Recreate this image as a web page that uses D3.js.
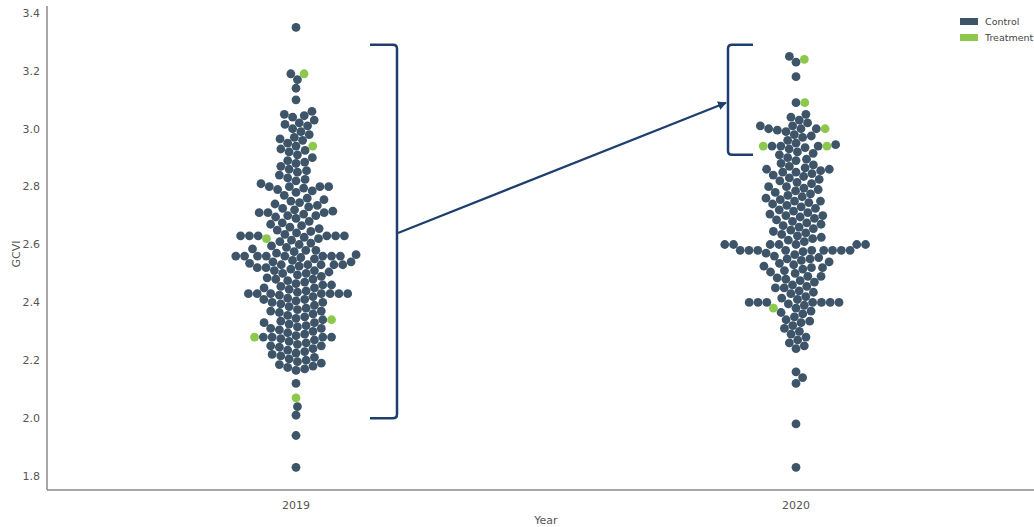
<!DOCTYPE html>
<html>
<head>
<meta charset="utf-8">
<script src="https://cdn.jsdelivr.net/npm/d3@7"></script>
<style>
  body { margin: 0; background: #fff; }
  svg { display: block; font-family: "DejaVu Sans", sans-serif; }
</style>
</head>
<body>
<div id="chart"></div>
<script>
const years = ["2019", "2020"];
const yTicks = [1.8, 2.0, 2.2, 2.4, 2.6, 2.8, 3.0, 3.2, 3.4];
const groups = ["Control", "Treatment"];

const control2019 = [
  3.35, 3.19, 3.17, 3.14, 3.10,
  3.06, 3.05, 3.045, 3.04,
  3.03, 3.02, 3.015, 3.01, 3.00,
  2.99, 2.98, 2.97, 2.965, 2.96,
  2.95, 2.94, 2.93, 2.925,
  2.92, 2.91, 2.90, 2.89, 2.885,
  2.88, 2.87, 2.86, 2.855, 2.85,
  2.84, 2.83, 2.825, 2.82, 2.81,
  2.80, 2.80, 2.80, 2.80, 2.795, 2.79, 2.785, 2.78,
  2.77, 2.76, 2.755, 2.75, 2.745, 2.74,
  2.735, 2.73, 2.725, 2.72, 2.715,
  2.71, 2.71, 2.71, 2.705, 2.70, 2.70, 2.695, 2.69,
  2.68, 2.675, 2.67, 2.665, 2.66, 2.655, 2.65,
  2.645, 2.64, 2.635, 2.63, 2.63, 2.63, 2.63, 2.63, 2.63, 2.625, 2.62,
  2.615, 2.61, 2.605, 2.60, 2.595, 2.59, 2.585, 2.58, 2.58,
  2.575, 2.57, 2.565, 2.56, 2.56, 2.56, 2.56, 2.56, 2.56, 2.56, 2.56, 2.555, 2.55,
  2.545, 2.54, 2.54, 2.535, 2.53, 2.53, 2.53, 2.53, 2.53, 2.525, 2.52, 2.52,
  2.515, 2.51, 2.51, 2.505, 2.50, 2.50, 2.495, 2.49, 2.485, 2.48, 2.48,
  2.475, 2.47, 2.465, 2.46, 2.46, 2.455, 2.45, 2.45,
  2.445, 2.44, 2.435, 2.43, 2.43, 2.43, 2.43, 2.43, 2.43, 2.43, 2.425, 2.42,
  2.415, 2.41, 2.41, 2.405, 2.40, 2.40, 2.395, 2.39, 2.385,
  2.38, 2.375, 2.37, 2.37, 2.365, 2.36, 2.355,
  2.35, 2.345, 2.34, 2.335, 2.33, 2.33, 2.325,
  2.32, 2.315, 2.31, 2.31, 2.305, 2.30,
  2.295, 2.29, 2.285, 2.28, 2.28, 2.28, 2.28, 2.275, 2.27,
  2.265, 2.26, 2.255, 2.25, 2.25, 2.245, 2.24,
  2.235, 2.23, 2.225, 2.22, 2.215, 2.21,
  2.205, 2.20, 2.195, 2.19, 2.185,
  2.18, 2.175, 2.17, 2.165,
  2.12, 2.04, 2.01, 1.94, 1.83
];
const treat2019 = [3.19, 2.94, 2.62, 2.34, 2.28, 2.07];

const control2020 = [
  3.25, 3.23, 3.18, 3.09,
  3.05, 3.04, 3.03,
  3.02, 3.01, 3.01, 3.00, 3.00, 3.00, 2.995,
  2.99, 2.98, 2.975, 2.97, 2.96,
  2.95, 2.945, 2.94, 2.94, 2.94, 2.935,
  2.93, 2.92, 2.915, 2.91, 2.90,
  2.895, 2.89, 2.88, 2.875, 2.87,
  2.865, 2.86, 2.86, 2.855, 2.85, 2.85, 2.845,
  2.84, 2.835, 2.83, 2.825, 2.82, 2.815, 2.81,
  2.80, 2.80, 2.795, 2.79, 2.785, 2.78, 2.775,
  2.77, 2.765, 2.76, 2.755, 2.75, 2.75, 2.745,
  2.74, 2.735, 2.73, 2.725, 2.72, 2.715, 2.71,
  2.705, 2.70, 2.70, 2.695, 2.69, 2.685,
  2.68, 2.675, 2.67, 2.665, 2.66, 2.655, 2.65,
  2.645, 2.64, 2.635, 2.63, 2.625, 2.62,
  2.615, 2.61, 2.60, 2.60, 2.60, 2.60, 2.60, 2.60, 2.60,
  2.58, 2.58, 2.58, 2.58, 2.58, 2.58, 2.58, 2.58, 2.58, 2.575, 2.57,
  2.565, 2.56, 2.555, 2.55, 2.55, 2.545, 2.54, 2.535,
  2.53, 2.525, 2.52, 2.52, 2.515, 2.51, 2.505,
  2.50, 2.49, 2.49, 2.485, 2.48, 2.475, 2.47,
  2.46, 2.455, 2.45, 2.45, 2.44, 2.435,
  2.43, 2.42, 2.415, 2.41,
  2.40, 2.40, 2.40, 2.40, 2.40, 2.40, 2.40, 2.395, 2.39,
  2.38, 2.37, 2.365, 2.36, 2.35,
  2.34, 2.335, 2.33, 2.32,
  2.31, 2.30, 2.29,
  2.28, 2.27, 2.26, 2.25, 2.24,
  2.16, 2.14, 2.12, 1.98, 1.83
];
const treat2020 = [3.24, 3.09, 3.00, 2.94, 2.94, 2.38];

// annotation ranges (GCVI units)
const bracket2019 = [2.0, 3.29];
const bracket2020 = [2.91, 3.29];
const arrowFrom = 2.64, arrowTo = 3.09;

const colors = { Control: "#3e5569", Treatment: "#8cc84b" };

// ---- layout ----
const width = 1034, height = 527;
const svg = d3.select("#chart").append("svg")
  .attr("width", width).attr("height", height);

const x = d3.scalePoint().domain(years).range([46, 1046]).padding(0.5);
const y = d3.scaleLinear().domain([1.8, 3.4]).range([476, 13]);
const axisLeftX = 47, axisBottomY = 490;

// spines
svg.append("line").attr("x1", axisLeftX).attr("x2", axisLeftX)
  .attr("y1", 6).attr("y2", axisBottomY)
  .attr("stroke", "#8a8a8a").attr("stroke-width", 1.5);
svg.append("line").attr("x1", axisLeftX).attr("x2", width)
  .attr("y1", axisBottomY).attr("y2", axisBottomY)
  .attr("stroke", "#8a8a8a").attr("stroke-width", 1.5);

// y tick labels
svg.selectAll(".ytick").data(yTicks).join("text")
  .attr("class", "ytick")
  .attr("x", 40).attr("y", d => y(d)).attr("dy", "0.35em")
  .attr("text-anchor", "end")
  .style("font-size", "11px").style("fill", "#555")
  .text(d => d.toFixed(1));

// x tick labels
svg.selectAll(".xtick").data(years).join("text")
  .attr("class", "xtick")
  .attr("x", d => x(d)).attr("y", 509)
  .attr("text-anchor", "middle")
  .style("font-size", "11px").style("fill", "#555")
  .text(d => d);

svg.append("text").attr("x", 546).attr("y", 524).attr("text-anchor", "middle")
  .style("font-size", "11px").style("fill", "#555").text("Year");
svg.append("text").attr("transform", "translate(20,254) rotate(-90)")
  .attr("text-anchor", "middle")
  .style("font-size", "11px").style("fill", "#555").text("GCVI");

// beeswarm placement (seaborn-like: nearest free spot to the center)
const r = 4.4, dia = 8.8;
function swarm(vals) {
  const pts = vals.map(v => ({ v: v.v, g: v.g, py: y(v.v), off: 0 }))
    .sort((a, b) => a.v - b.v);
  const placed = [];
  pts.forEach(p => {
    const near = placed.filter(q => Math.abs(q.py - p.py) < dia);
    const cands = [0];
    near.forEach(q => {
      const dx = Math.sqrt(dia * dia - (q.py - p.py) ** 2);
      cands.push(q.off + dx, q.off - dx);
    });
    cands.sort((a, b) => Math.abs(a) - Math.abs(b));
    for (const c of cands) {
      if (near.every(q => (q.off - c) ** 2 + (q.py - p.py) ** 2 >= dia * dia - 0.01)) {
        p.off = c; break;
      }
    }
    placed.push(p);
  });
  return pts;
}

const byYear = {
  "2019": control2019.map(v => ({ v, g: "Control" })).concat(treat2019.map(v => ({ v, g: "Treatment" }))),
  "2020": control2020.map(v => ({ v, g: "Control" })).concat(treat2020.map(v => ({ v, g: "Treatment" })))
};

years.forEach(yr => {
  const pts = swarm(byYear[yr]);
  svg.append("g").selectAll("circle").data(pts).join("circle")
    .attr("cx", d => x(yr) + d.off)
    .attr("cy", d => d.py)
    .attr("r", r)
    .attr("fill", d => colors[d.g]);
});

// legend
const legend = svg.append("g").selectAll("g").data(groups).join("g")
  .attr("transform", (d, i) => `translate(960,${18 + i * 16})`);
legend.append("rect").attr("width", 18).attr("height", 7).attr("fill", d => colors[d]);
legend.append("text").attr("x", 25).attr("y", 7)
  .style("font-size", "9.5px").style("fill", "#444").text(d => d);

// annotation brackets and arrow
const navy = "#1d3f6e";
function bracket(xEdge, xArm, range) {
  const t = y(range[1]), b = y(range[0]);
  const s = xArm < xEdge ? -1 : 1; // arm direction
  const k = 4;
  const p = d3.path();
  p.moveTo(xArm, t);
  p.lineTo(xEdge + s * k, t);
  p.quadraticCurveTo(xEdge, t, xEdge, t + k);
  p.lineTo(xEdge, b - k);
  p.quadraticCurveTo(xEdge, b, xEdge + s * k, b);
  p.lineTo(xArm, b);
  svg.append("path").attr("d", p.toString())
    .attr("fill", "none").attr("stroke", navy).attr("stroke-width", 2.5);
}
bracket(x("2019") + 101, x("2019") + 74, bracket2019);
bracket(x("2020") - 68, x("2020") - 43, bracket2020);

svg.append("defs").append("marker")
  .attr("id", "arrow").attr("viewBox", "0 0 10 10")
  .attr("refX", 9).attr("refY", 5)
  .attr("markerWidth", 4).attr("markerHeight", 4)
  .attr("orient", "auto")
  .append("path").attr("d", "M0,0 L10,5 L0,10 z").attr("fill", navy);

svg.append("line")
  .attr("x1", x("2019") + 102).attr("y1", y(arrowFrom))
  .attr("x2", x("2020") - 70).attr("y2", y(arrowTo))
  .attr("stroke", navy).attr("stroke-width", 2.2)
  .attr("marker-end", "url(#arrow)");
</script>
</body>
</html>
